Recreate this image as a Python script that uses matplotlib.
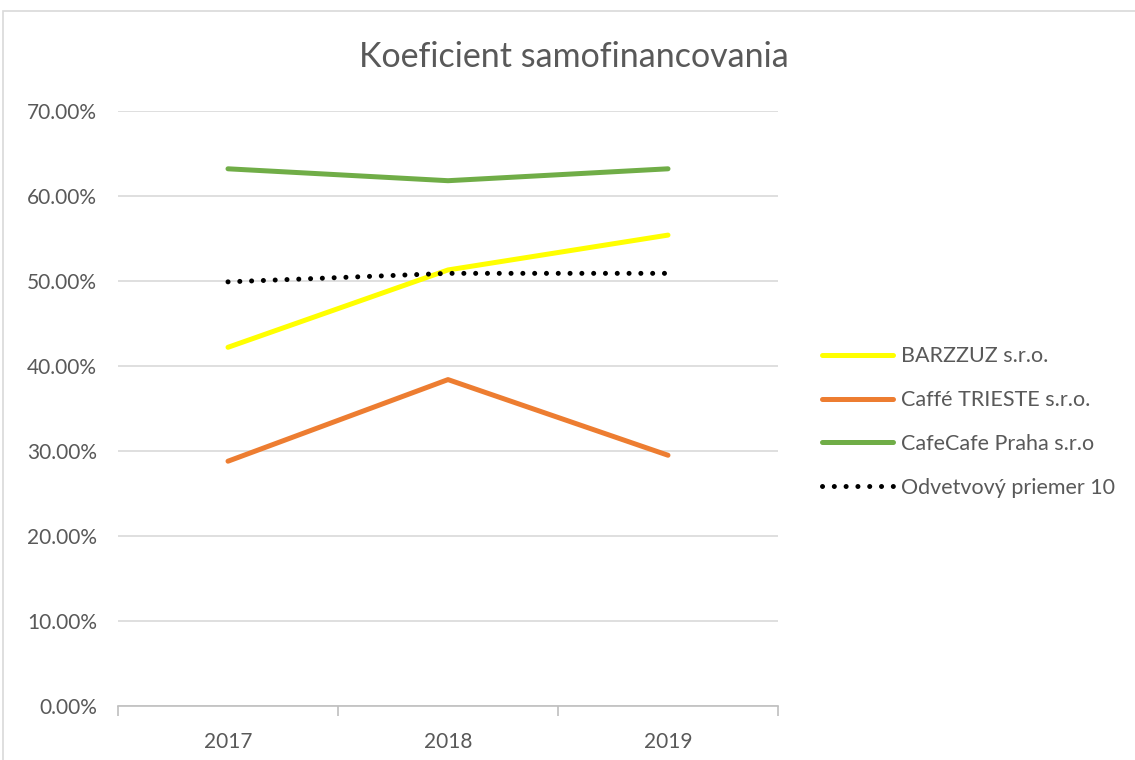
import numpy as np
import matplotlib
matplotlib.use('Agg')
import matplotlib.pyplot as plt
from matplotlib.patches import Rectangle
from matplotlib.ticker import FuncFormatter, MultipleLocator

years = ['2017', '2018', '2019']
barzzuz = [0.422, 0.513, 0.554]
trieste = [0.288, 0.384, 0.295]
cafecafe = [0.632, 0.618, 0.632]
priemer = [0.499, 0.509, 0.509]

names = ['BARZZUZ s.r.o.', 'Caffé TRIESTE s.r.o.', 'CafeCafe Praha s.r.o',
         'Odvetvový priemer 10']

plt.rcParams['font.family'] = ['Lato', 'DejaVu Sans']
textcol = '#595959'

fig = plt.figure(figsize=(11.35, 7.6), dpi=100)
ax = fig.add_axes([118 / 1135, 1 - 706 / 760, 660 / 1135, 595 / 760])

# chart frame, cropped at right and bottom like the reference
fig.patches.append(Rectangle((3 / 1135, -0.2), 1.5, 1 - 11 / 760 + 0.2,
                             transform=fig.transFigure, fill=False,
                             edgecolor='#d9d9d9', linewidth=1.2))

x = np.arange(len(years))
ax.plot(x, barzzuz, color='#ffff00', lw=3.6, solid_capstyle='round', label=names[0])
ax.plot(x, trieste, color='#ed7d31', lw=3.6, solid_capstyle='round', label=names[1])
ax.plot(x, cafecafe, color='#70ad47', lw=3.6, solid_capstyle='round', label=names[2])
ax.plot(x, priemer, color='black', lw=3.6, linestyle=(0, (0.01, 2.35)),
        dash_capstyle='round', label=names[3])

ax.set_xlim(-0.5, len(years) - 0.5)
ax.set_ylim(0, 0.7)
ax.yaxis.set_major_locator(MultipleLocator(0.1))
ax.yaxis.set_major_formatter(FuncFormatter(lambda v, p: '{:.2f}%'.format(v * 100)))
ax.set_xticks(x)
ax.set_xticklabels(years)
ax.set_xticks(np.arange(-0.5, len(years), 1), minor=True)

ax.grid(axis='y', color='#d9d9d9', lw=1.2)
ax.set_axisbelow(True)
for s in ['top', 'right', 'left']:
    ax.spines[s].set_visible(False)
ax.spines['bottom'].set_color('#bfbfbf')
ax.spines['bottom'].set_linewidth(1.2)

ax.tick_params(axis='y', length=0, pad=15, labelsize=15, labelcolor=textcol)
ax.tick_params(axis='x', which='major', length=0, pad=19, labelsize=15,
               labelcolor=textcol)
ax.tick_params(axis='x', which='minor', length=7, width=1.2, color='#bfbfbf')

fig.text(574 / 1135, 1 - 57 / 760, 'Koeficient samofinancovania', ha='center',
         va='center', fontsize=24.5, color=textcol)

leg = ax.legend(loc='center left', bbox_to_anchor=(803 / 1135, 1 - 422 / 760),
                bbox_transform=fig.transFigure, frameon=False, fontsize=15.5,
                handlelength=3.3, handletextpad=0.37, labelspacing=1.1,
                labelcolor=textcol)

fig.savefig('out.png', dpi=100)
